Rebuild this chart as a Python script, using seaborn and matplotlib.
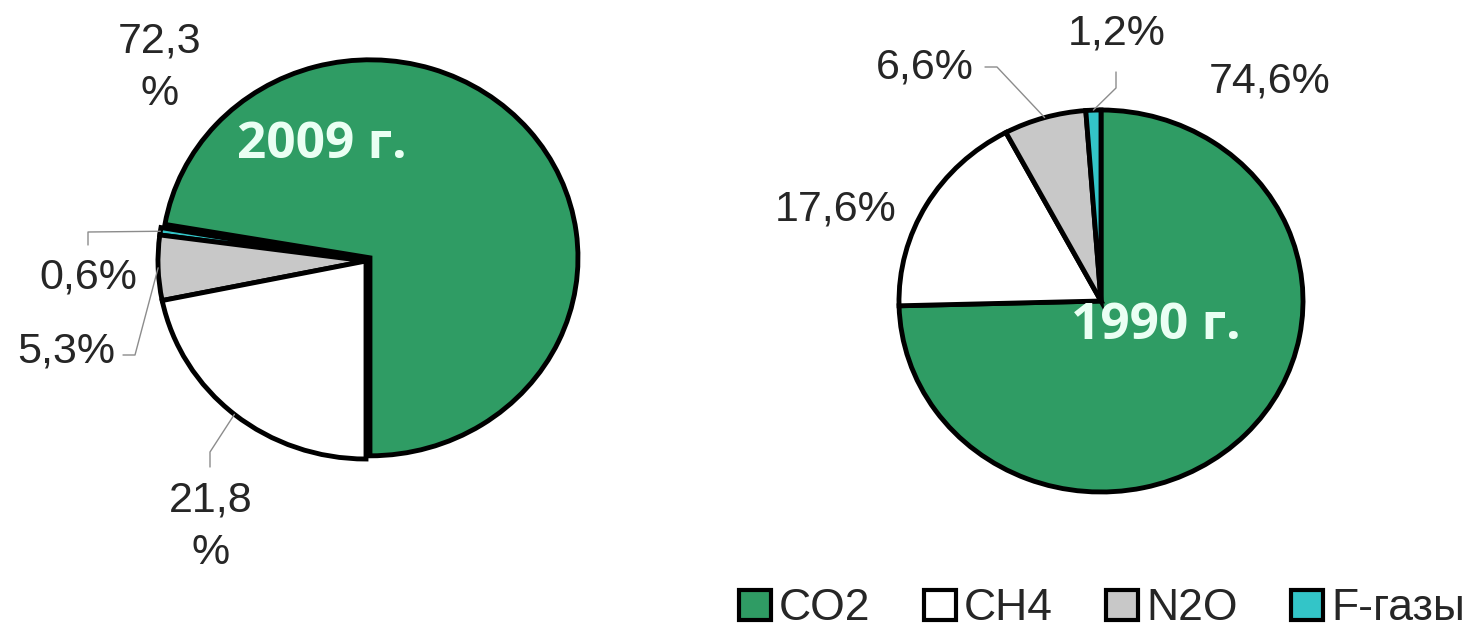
import matplotlib
matplotlib.use("Agg")
import matplotlib.pyplot as plt
import seaborn as sns
import numpy as np
from matplotlib.patches import Patch
from matplotlib.lines import Line2D

# ---- data ----
gases = ["CO2", "CH4", "N2O", "F-газы"]
colors = ["#2f9c64", "#ffffff", "#c8c8c8", "#33c5c8"]
share_2009 = [72.3, 21.8, 5.3, 0.6]
share_1990 = [74.6, 17.6, 6.6, 1.2]
labels_2009 = ["72,3\n%", "21,8\n%", "5,3%", "0,6%"]
labels_1990 = ["74,6%", "17,6%", "6,6%", "1,2%"]
years = ["2009 г.", "1990 г."]

sns.set_theme(style="white")
plt.rcParams['font.family'] = ['Liberation Sans', 'DejaVu Sans']

W, H = 1474, 631
fig = plt.figure(figsize=(W / 100, H / 100), dpi=100)
fig.patch.set_facecolor("white")


def add_axes_px(cx, cy, rx, ry):
    return fig.add_axes([(cx - rx) / W, (H - cy - ry) / H, 2 * rx / W, 2 * ry / H])


ax1 = add_axes_px(366, 261, 208, 198)
ax2 = add_axes_px(1101, 301, 202, 191)

wp = dict(edgecolor="black", linewidth=3.5, joinstyle="miter")

order1 = [0, 3, 2, 1]   # counterclockwise from the bottom
order2 = [0, 1, 2, 3]   # clockwise from the top
w1, _ = ax1.pie([share_2009[i] for i in order1], colors=[colors[i] for i in order1],
                startangle=-90, counterclock=True,
                explode=[0.025 if i == 0 else 0 for i in order1], wedgeprops=wp)
w2, _ = ax2.pie([share_1990[i] for i in order2], colors=[colors[i] for i in order2],
                startangle=90, counterclock=False, wedgeprops=wp)
for ax in (ax1, ax2):
    ax.set_aspect("auto")
    ax.set_xlim(-1, 1)
    ax.set_ylim(-1, 1)
    ax.axis("off")
    for p in ax.patches:
        p.set_clip_on(False)

wedges1 = {order1[k]: w for k, w in enumerate(w1)}
wedges2 = {order2[k]: w for k, w in enumerate(w2)}


def edge_px(ax, wedge):
    t = np.deg2rad((wedge.theta1 + wedge.theta2) / 2)
    cx, cy = wedge.center
    r = wedge.r
    dx, dy = ax.transData.transform((cx + r * np.cos(t), cy + r * np.sin(t)))
    return dx, H - dy


def fx(x):
    return x / W


def fy(y):
    return 1 - y / H


txt_color = "#262626"
lead_color = "#8c8c8c"
fs = 31


def label(x, y, s):
    fig.text(fx(x), fy(y), s, ha="center", va="center", fontsize=fs,
             color=txt_color, linespacing=1.4)


def leader(ax, wedge, pts):
    ex, ey = edge_px(ax, wedge)
    xs = [ex] + [p[0] for p in pts]
    ys = [ey] + [p[1] for p in pts]
    fig.add_artist(Line2D([fx(x) for x in xs], [fy(y) for y in ys],
                          transform=fig.transFigure, color=lead_color, lw=1.0))


# 2009 labels
label(160, 68, labels_2009[0])
label(211, 527, labels_2009[1])
leader(ax1, wedges1[1], [(210, 452), (210, 467)])
label(66, 352, labels_2009[2])
leader(ax1, wedges1[2], [(135, 355), (123, 355)])
label(88, 277, labels_2009[3])
leader(ax1, wedges1[3], [(88, 232), (88, 245)])

# 1990 labels
label(1270, 82, labels_1990[0])
label(836, 210, labels_1990[1])
label(925, 68, labels_1990[2])
leader(ax2, wedges2[2], [(997, 67), (985, 67)])
label(1117, 33, labels_1990[3])
leader(ax2, wedges2[3], [(1116, 88), (1116, 72)])

# year titles
for (x, y), s in zip([(322, 145), (1156, 326)], years):
    fig.text(fx(x), fy(y), s, ha="center", va="center", fontsize=37,
             fontfamily=["Open Sans", "DejaVu Sans"], fontweight="bold", color="#eafff3")

# legend
handles = [Patch(facecolor=c, edgecolor="black", linewidth=3, label=g)
           for g, c in zip(gases, colors)]
leg = fig.legend(handles=handles, loc="center", bbox_to_anchor=(fx(1102), fy(609)),
                 ncol=4, frameon=False, fontsize=32, handlelength=0.72, handleheight=0.68,
                 handletextpad=0.18, columnspacing=1.2, borderpad=0, borderaxespad=0)
for t in leg.get_texts():
    t.set_color(txt_color)

fig.savefig("out.png", dpi=100, facecolor="white")
